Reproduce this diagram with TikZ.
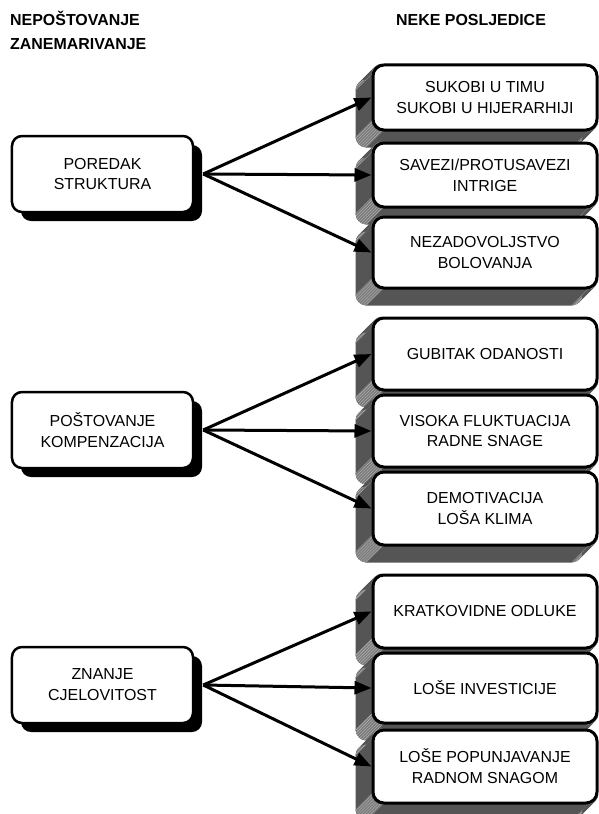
\documentclass[tikz,border=0pt]{standalone}
\usepackage{fontspec}
\setmainfont{Liberation Sans}
\usetikzlibrary{arrows.meta,shadows,patterns}
\pgfdeclarelayer{bg}
\pgfsetlayers{bg,main}
\definecolor{extcol}{HTML}{555555}
\definecolor{bandcol}{HTML}{7A7A7A}
\definecolor{hatchcol}{HTML}{B8B8B8}
\begin{document}
\begin{tikzpicture}[x=1bp,y=-1bp,
  txt/.style={font=\fontsize{16}{21}\selectfont},
  hdr/.style={font=\bfseries\fontsize{16}{19}\selectfont, inner sep=0},
  lbox/.style={txt, draw, line width=2.5bp, rounded corners=10bp, fill=white,
    minimum width=181bp, minimum height=76bp, align=center, inner sep=0,
    drop shadow={shadow xshift=9bp, shadow yshift=-9bp, fill=black, opacity=1}},
  rbox/.style={txt, draw, line width=3bp, rounded corners=11bp, fill=white,
    minimum width=224bp, align=center, inner sep=0},
  arr/.style={line width=3bp, -{Triangle[length=17bp,width=13bp]}},
  band/.style={fill=bandcol},
  hatch/.style={pattern=north east lines, pattern color=hatchcol}
]
\useasboundingbox (0,0) rectangle (599,814);

% headers
\node[hdr, anchor=base west] (h1) at (10,26) {NEPOŠTOVANJE};
\node[hdr, anchor=base west] (h2) at (10,50) {ZANEMARIVANJE};
\node[hdr, anchor=base west] (h3) at (396,26) {NEKE POSLJEDICE};

% left boxes
\node[lbox] (l1) at (102.5,174) {POREDAK\\STRUKTURA};
\node[lbox] (l2) at (102.5,430) {POŠTOVANJE\\KOMPENZACIJA};
\node[lbox] (l3) at (102.5,685) {ZNANJE\\CJELOVITOST};

% right boxes
\node[rbox, minimum height=65bp] (r11) at (485,97.5) {SUKOBI U TIMU\\SUKOBI U HIJERARHIJI};
\node[rbox, minimum height=64bp] (r12) at (485,175) {SAVEZI/PROTUSAVEZI\\INTRIGE};
\node[rbox, minimum height=71bp] (r13) at (485,252.5) {NEZADOVOLJSTVO\\BOLOVANJA};

\node[rbox, minimum height=72bp] (r21) at (485,354) {GUBITAK ODANOSTI};
\node[rbox, minimum height=72bp] (r22) at (485,431) {VISOKA FLUKTUACIJA\\RADNE SNAGE};
\node[rbox, minimum height=73bp] (r23) at (485,508.5) {DEMOTIVACIJA\\LOŠA KLIMA};

\node[rbox, minimum height=73bp] (r31) at (485,611.5) {KRATKOVIDNE ODLUKE};
\node[rbox, minimum height=70bp] (r32) at (485,688) {LOŠE INVESTICIJE};
\node[rbox, minimum height=73bp] (r33) at (485,766.5) {LOŠE POPUNJAVANJE\\RADNOM SNAGOM};

% extrusions
\begin{pgfonlayer}{bg}
\foreach \n in {r11,r12,r13,r21,r22,r23,r31,r32,r33}{
  \foreach \i in {16,15,...,1}{
    \fill[extcol, rounded corners=11bp] ([shift={(-\i,\i)}]\n.south west) rectangle ([shift={(-\i,\i)}]\n.north east);
  }
  \foreach \s in {band,hatch}{
    % top-left corner band
    \path[\s] ([shift={(11,0)}]\n.north west) arc[start angle=90,end angle=180,radius=11bp]
      -- ++(-16,16) arc[start angle=180,end angle=90,radius=11bp] -- cycle;
    % bottom-left corner band
    \path[\s] ([shift={(0,-11)}]\n.south west) arc[start angle=180,end angle=270,radius=11bp]
      -- ++(-16,16) arc[start angle=270,end angle=180,radius=11bp] -- cycle;
    % bottom-right corner band
    \path[\s] ([shift={(-11,0)}]\n.south east) arc[start angle=270,end angle=360,radius=11bp]
      -- ++(-16,16) arc[start angle=360,end angle=270,radius=11bp] -- cycle;
  }
}
\end{pgfonlayer}

% arrows
\foreach \g in {1,2,3}{
  \foreach \k in {1,2,3}{
    \draw[arr] ([xshift=9bp]l\g.east) -- (r\g\k.west);
  }
}
\end{tikzpicture}
\end{document}
